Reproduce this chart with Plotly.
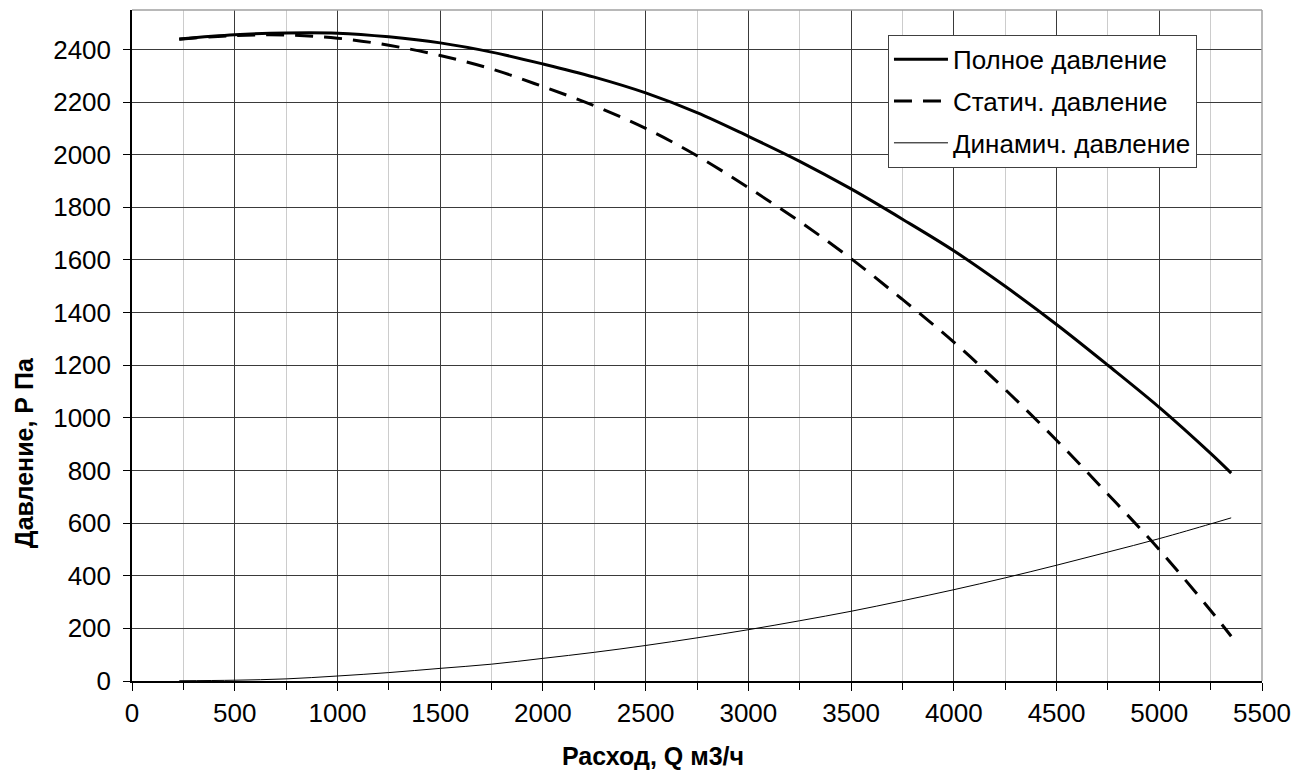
import plotly.graph_objects as go

flow = [230, 500, 750, 1000, 1250, 1500, 1750, 2000, 2250, 2500, 2750, 3000,
        3250, 3500, 3750, 4000, 4250, 4500, 4750, 5000, 5250, 5350]
total_p = [2440, 2456, 2463, 2462, 2448, 2425, 2390, 2345, 2295, 2235, 2160, 2070,
           1975, 1870, 1755, 1635, 1500, 1355, 1200, 1040, 865, 790]
static_p = [2439, 2453, 2455, 2443, 2416, 2377, 2326, 2259, 2186, 2100, 1996, 1875,
            1746, 1605, 1450, 1288, 1108, 915, 710, 499, 268, 170]
dynamic_p = [1, 3, 8, 19, 32, 48, 64, 86, 109, 135, 164, 195,
             229, 265, 305, 347, 392, 440, 490, 541, 597, 620]

names = ["Полное давление", "Статич. давление", "Динамич. давление"]
x_title = "Расход, Q м3/ч"
y_title = "Давление, Р Па"

fig = go.Figure()
fig.add_trace(go.Scatter(x=flow, y=total_p, mode="lines", name=names[0], legendgroup="a",
                         line=dict(color="black", width=3, shape="spline")))
fig.add_trace(go.Scatter(x=flow, y=static_p, mode="lines", name=names[1], legendgroup="b",
                         line=dict(color="black", width=3, dash="18px,11px", shape="spline")))
fig.add_trace(go.Scatter(x=flow, y=dynamic_p, mode="lines", name=names[2], legendgroup="c",
                         line=dict(color="black", width=1, shape="spline")))

font_family = "Liberation Sans, Arial, sans-serif"

fig.update_layout(
    width=1303, height=765,
    margin=dict(l=124, r=49, t=2, b=92),
    paper_bgcolor="white", plot_bgcolor="white",
    font=dict(family=font_family, size=26, color="black"),
    showlegend=True,
    legend=dict(x=0.669, y=0.963, xanchor="left", yanchor="top",
                bgcolor="white", bordercolor="#404040", borderwidth=1,
                font=dict(size=26), tracegroupgap=5, itemwidth=54),
    xaxis=dict(
        range=[0, 5500], dtick=500, tick0=0,
        showgrid=True, gridcolor="#3a3a3a", gridwidth=1,
        showline=True, linecolor="black", linewidth=1.5,
        ticks="outside", ticklen=8, tickcolor="black",
        zeroline=False,
        minor=dict(dtick=250, showgrid=True, gridcolor="#cccccc", gridwidth=1,
                   ticks="outside", ticklen=7, tickcolor="black"),
        tickfont=dict(size=26),
    ),
    yaxis=dict(
        range=[0, 2550], dtick=200, tick0=0,
        showgrid=True, gridcolor="#3a3a3a", gridwidth=1,
        showline=True, linecolor="black", linewidth=1.5,
        ticks="outside", ticklen=7, tickcolor="black",
        zeroline=False, ticklabelstandoff=7,
        tickfont=dict(size=26),
    ),
)

fig.add_annotation(text="<b>" + x_title + "</b>", xref="paper", yref="paper",
                   x=0.461, y=-0.112, xanchor="center", yanchor="middle",
                   showarrow=False, font=dict(size=25, family=font_family))
fig.add_annotation(text="<b>" + y_title + "</b>", xref="paper", yref="paper",
                   x=-0.0956, y=0.341, xanchor="center", yanchor="middle", textangle=-90,
                   showarrow=False, font=dict(size=25, family=font_family))

fig.add_shape(type="line", xref="paper", yref="paper", x0=0, x1=1, y0=1, y1=1,
              line=dict(color="#a0a0a0", width=1.5))
fig.add_shape(type="line", xref="paper", yref="paper", x0=1, x1=1, y0=0, y1=1,
              line=dict(color="#a0a0a0", width=1.5))

fig.write_html("out.html")
